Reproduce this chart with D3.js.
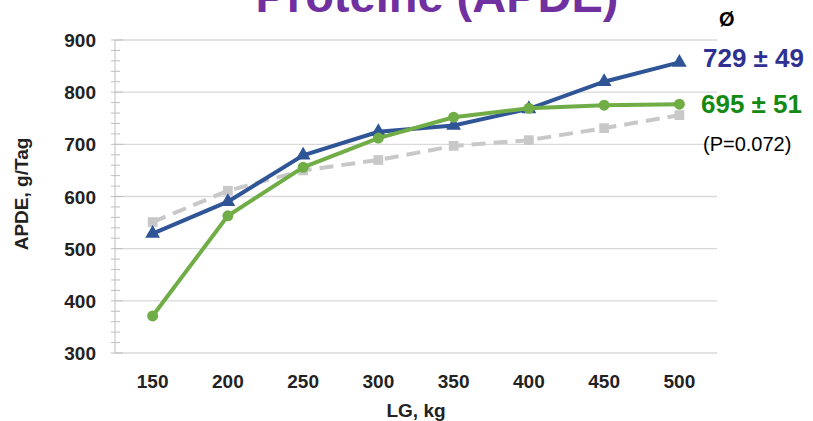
<!DOCTYPE html>
<html lang="en">

<head>
    <script src='https://d3js.org/d3.v7.min.js'></script>
    <style>
        body { margin: 0; background: #fff; }
        text { font-family: "Liberation Sans", Arial, sans-serif; }
    </style>
</head>

<body>

    <script>
        // LG classes (kg) and APDE values (g/Tag)
        var lgClasses = [150, 200, 250, 300, 350, 400, 450, 500];
        var blueValues = [529, 590, 679, 724, 736, 768, 820, 857];
        var greenValues = [371, 563, 656, 712, 752, 769, 775, 777];
        var grayValues = [551, 611, 650, 670, 697, 708, 731, 756];
        var yTicks = [300, 400, 500, 600, 700, 800, 900];

        const width = 813; const height = 421;
        const plotLeft = 115, plotRight = 717, plotTop = 40, plotBottom = 353;

        const svg = d3.select("body")
         .append("svg")
         .attr("width", width)
         .attr("height", height);

        var x = d3.scalePoint().domain(lgClasses).range([plotLeft, plotRight]).padding(0.5);
        var y = d3.scaleLinear().domain([300, 900]).range([plotBottom, plotTop]);

        // gridlines
        svg.append("g")
         .selectAll("line")
         .data(yTicks)
         .enter()
         .append("line")
         .attr("x1", plotLeft).attr("x2", plotRight)
         .attr("y1", function(d) { return y(d); })
         .attr("y2", function(d) { return y(d); })
         .attr("stroke", "#d9d9d9")
         .attr("stroke-width", 1.3);

        // y axis with minor ticks
        svg.append("line")
         .attr("x1", plotLeft).attr("x2", plotLeft)
         .attr("y1", plotTop).attr("y2", plotBottom)
         .attr("stroke", "#bfbfbf");
        var minor = d3.range(300, 901, 20);
        svg.append("g")
         .selectAll("line")
         .data(minor)
         .enter()
         .append("line")
         .attr("x1", plotLeft - 4)
         .attr("x2", function(d) { return d % 100 === 0 ? plotLeft + 8 : plotLeft + 5; })
         .attr("y1", function(d) { return y(d); })
         .attr("y2", function(d) { return y(d); })
         .attr("stroke", "#bfbfbf");

        svg.append("g")
         .selectAll("text")
         .data(yTicks)
         .enter()
         .append("text")
         .attr("x", 96)
         .attr("y", function(d) { return y(d) + 7; })
         .attr("text-anchor", "end")
         .attr("font-size", 19)
         .attr("font-weight", "bold")
         .attr("fill", "#222")
         .text(function(d) { return d; });

        svg.append("g")
         .selectAll("text")
         .data(lgClasses)
         .enter()
         .append("text")
         .attr("x", function(d) { return x(d); })
         .attr("y", 388)
         .attr("text-anchor", "middle")
         .attr("font-size", 19)
         .attr("font-weight", "bold")
         .attr("fill", "#222")
         .text(function(d) { return d; });

        // axis titles
        svg.append("text")
         .attr("transform", "translate(28,194) rotate(-90)")
         .attr("text-anchor", "middle")
         .attr("font-size", 19)
         .attr("font-weight", "bold")
         .attr("fill", "#222")
         .text("APDE, g/Tag");
        svg.append("text")
         .attr("x", 416).attr("y", 417)
         .attr("text-anchor", "middle")
         .attr("font-size", 19)
         .attr("font-weight", "bold")
         .attr("fill", "#222")
         .text("LG, kg");

        // title (cut off at top)
        svg.append("text")
         .attr("x", 437).attr("y", 12)
         .attr("text-anchor", "middle")
         .attr("font-size", 47)
         .attr("font-weight", "bold")
         .attr("fill", "#7030a0")
         .text("Proteine (APDE)");

        var line = d3.line()
         .x(function(d, i) { return x(lgClasses[i]); })
         .y(function(d) { return y(d); });

        // gray dashed series
        svg.append("path")
         .attr("d", line(grayValues))
         .attr("fill", "none")
         .attr("stroke", "#c8c8c8")
         .attr("stroke-width", 4)
         .attr("stroke-dasharray", "14,8");
        svg.append("g")
         .selectAll("path")
         .data(grayValues)
         .enter()
         .append("path")
         .attr("transform", function(d, i) { return "translate(" + x(lgClasses[i]) + "," + y(d) + ")"; })
         .attr("d", d3.symbol().type(d3.symbolSquare).size(95))
         .attr("fill", "#c8c8c8");

        // blue series
        svg.append("path")
         .attr("d", line(blueValues))
         .attr("fill", "none")
         .attr("stroke", "#2f5597")
         .attr("stroke-width", 4);
        svg.append("g")
         .selectAll("path")
         .data(blueValues)
         .enter()
         .append("path")
         .attr("transform", function(d, i) { return "translate(" + x(lgClasses[i]) + "," + y(d) + ")"; })
         .attr("d", d3.symbol().type(d3.symbolTriangle).size(95))
         .attr("fill", "#2f5597");

        // green series
        svg.append("path")
         .attr("d", line(greenValues))
         .attr("fill", "none")
         .attr("stroke", "#70ad47")
         .attr("stroke-width", 4);
        svg.append("g")
         .selectAll("circle")
         .data(greenValues)
         .enter()
         .append("circle")
         .attr("cx", function(d, i) { return x(lgClasses[i]); })
         .attr("cy", function(d) { return y(d); })
         .attr("r", 5.5)
         .attr("fill", "#70ad47");

        // annotations
        svg.append("text")
         .attr("x", 719).attr("y", 26)
         .attr("font-size", 20)
         .attr("font-weight", "bold")
         .attr("fill", "#000")
         .text("Ø");
        svg.append("text")
         .attr("x", 703).attr("y", 67)
         .attr("font-size", 26)
         .attr("font-weight", "bold")
         .attr("fill", "#2e3192")
         .text("729 ± 49");
        svg.append("text")
         .attr("x", 701).attr("y", 113)
         .attr("font-size", 26)
         .attr("font-weight", "bold")
         .attr("fill", "#138a13")
         .text("695 ± 51");
        svg.append("text")
         .attr("x", 703).attr("y", 151)
         .attr("font-size", 20)
         .attr("fill", "#000")
         .text("(P=0.072)");
    </script>

</body>

</html>
